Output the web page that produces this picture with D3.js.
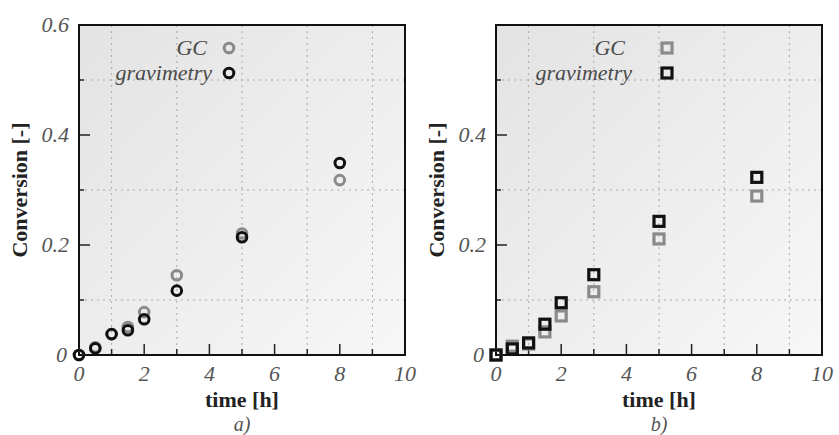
<!DOCTYPE html>
<meta charset="utf-8">
<style>
body { margin: 0; background: #fff; }
text { font-family: "Liberation Serif", "Times New Roman", serif; }
.tick-label { font-style: italic; font-size: 22px; fill: #555; }
.axis-title { font-weight: bold; font-size: 22px; fill: #222; }
.legend-text { font-style: italic; font-size: 22px; fill: #4a4a4a; }
.panel-label { font-style: italic; font-size: 20px; fill: #555; }
</style>
<body>
<script src="https://cdn.jsdelivr.net/npm/d3@7"></script>
<script>
// data
var times = [0, 0.5, 1, 1.5, 2, 3, 5, 8];
var gcA = [0, 0.014, 0.038, 0.051, 0.078, 0.145, 0.221, 0.318];
var gravA = [0, 0.012, 0.038, 0.045, 0.065, 0.117, 0.214, 0.349];
var gcB = [0, 0.016, 0.02, 0.042, 0.071, 0.115, 0.211, 0.289];
var gravB = [0, 0.011, 0.022, 0.056, 0.095, 0.146, 0.243, 0.323];
var xTicks = [0, 2, 4, 6, 8, 10];
var xMinor = [1, 3, 5, 7, 9];
var yTicksA = [0, 0.2, 0.4, 0.6];
var yTicksB = [0, 0.2, 0.4];
var yMinor = [0.1, 0.3, 0.5];

var W = 839, H = 435;
var svg = d3.select("body").append("svg").attr("width", W).attr("height", H);

var grad = svg.append("defs").append("linearGradient")
    .attr("id", "bg").attr("x1", "0").attr("y1", "0").attr("x2", "1").attr("y2", "1");
grad.append("stop").attr("offset", "0").attr("stop-color", "#e3e3e3");
grad.append("stop").attr("offset", "1").attr("stop-color", "#f7f7f7");

var gray = "#8a8a8a", black = "#111";

function panel(left, series, yTicks, shape, label, legX, legOff) {
  var top = 25, width = 326, height = 330;
  var x = d3.scaleLinear().domain([0, 10]).range([0, width]);
  var y = d3.scaleLinear().domain([0, 0.6]).range([height, 0]);
  var g = svg.append("g").attr("transform", "translate(" + left + "," + top + ")");

  g.append("rect").attr("width", width).attr("height", height).attr("fill", "url(#bg)");

  // dotted grid at odd values
  g.selectAll(".vg").data(xMinor).enter().append("line")
      .attr("x1", x).attr("x2", x).attr("y1", 0).attr("y2", height)
      .attr("stroke", "#aaa").attr("stroke-width", 1).attr("stroke-dasharray", "2,4");
  g.selectAll(".hg").data(yMinor).enter().append("line")
      .attr("y1", y).attr("y2", y).attr("x1", 0).attr("x2", width)
      .attr("stroke", "#aaa").attr("stroke-width", 1).attr("stroke-dasharray", "2,4");

  // ticks
  g.selectAll(".xt").data(xTicks.slice(1, -1)).enter().append("line")
      .attr("x1", x).attr("x2", x).attr("y1", height).attr("y2", height - 11)
      .attr("stroke", "#222").attr("stroke-width", 1.5);
  g.selectAll(".xm").data(xMinor).enter().append("line")
      .attr("x1", x).attr("x2", x).attr("y1", height).attr("y2", height - 6)
      .attr("stroke", "#222").attr("stroke-width", 1.5);
  g.selectAll(".yt").data([0.2, 0.4]).enter().append("line")
      .attr("y1", y).attr("y2", y).attr("x1", 0).attr("x2", 11)
      .attr("stroke", "#222").attr("stroke-width", 1.5);
  g.selectAll(".ym").data(yMinor).enter().append("line")
      .attr("y1", y).attr("y2", y).attr("x1", 0).attr("x2", 5)
      .attr("stroke", "#222").attr("stroke-width", 1.5);

  g.append("rect").attr("width", width).attr("height", height)
      .attr("fill", "none").attr("stroke", "#111").attr("stroke-width", 2);

  // tick labels
  g.selectAll(".xl").data(xTicks).enter().append("text")
      .attr("class", "tick-label")
      .attr("x", x).attr("y", height + 26)
      .attr("text-anchor", "middle")
      .text(function(d) { return d; });
  g.selectAll(".yl").data(yTicks).enter().append("text")
      .attr("class", "tick-label")
      .attr("x", function(d) { return d === 0 ? -12 : -10; })
      .attr("y", function(d) { return y(d) + 7; })
      .attr("text-anchor", "end")
      .text(function(d) { return d === 0 ? "0" : d3.format(".1f")(d); });

  g.append("text").attr("class", "axis-title")
      .attr("x", width / 2).attr("y", height + 52)
      .attr("text-anchor", "middle").text("time [h]");
  g.append("text").attr("class", "panel-label")
      .attr("x", width / 2).attr("y", height + 76)
      .attr("text-anchor", "middle").text(label);
  g.append("text").attr("class", "axis-title")
      .attr("transform", "translate(" + (-52) + "," + (height / 2) + ") rotate(-90)")
      .attr("text-anchor", "middle").text("Conversion [-]");

  function drawMark(sel, color) {
    if (shape === "circle") {
      sel.append("circle").attr("r", 4.8)
          .attr("fill", "none").attr("stroke", color).attr("stroke-width", 3);
    } else {
      sel.append("rect").attr("x", -5).attr("y", -5).attr("width", 10).attr("height", 10)
          .attr("fill", "none").attr("stroke", color).attr("stroke-width", 3.2);
    }
  }

  series.forEach(function(s) {
    var pts = g.append("g").selectAll("g").data(times).enter().append("g")
        .attr("transform", function(d, i) { return "translate(" + x(d) + "," + y(s.values[i]) + ")"; });
    drawMark(pts, s.color);
  });

  // legend
  series.forEach(function(s, i) {
    var ly = 23 + i * 25;
    g.append("text").attr("class", "legend-text")
        .attr("x", legX - legOff[i]).attr("y", ly + 7)
        .attr("text-anchor", "end").text(s.name);
    var m = g.append("g").attr("transform", "translate(" + legX + "," + ly + ")");
    drawMark(m, s.color);
  });
}

panel(79, [
  {name: "GC", values: gcA, color: gray},
  {name: "gravimetry", values: gravA, color: black}
], yTicksA, "circle", "a)", 150, [22, 17]);

panel(496, [
  {name: "GC", values: gcB, color: gray},
  {name: "gravimetry", values: gravB, color: black}
], yTicksB, "square", "b)", 171, [42, 35]);
</script>
</body>
